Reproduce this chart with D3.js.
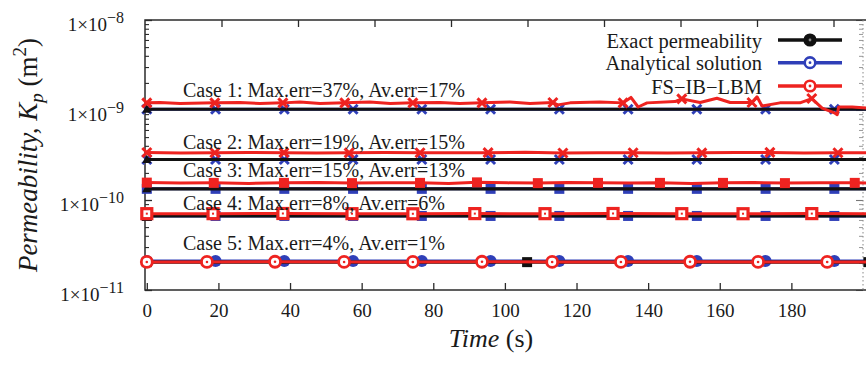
<!DOCTYPE html>
<html>
<head>
<meta charset="utf-8">
<script src="https://cdn.jsdelivr.net/npm/d3@7"></script>
<style>
  body { margin: 0; background: #fff; }
  svg { display: block; }
  svg text { font-family: "Liberation Serif", "DejaVu Serif", serif; }
</style>
</head>
<body>
<svg id="chart" width="866" height="365"></svg>
<script>
// ---------- data ----------
const timeTicks = [0, 20, 40, 60, 80, 100, 120, 140, 160, 180];
const decadeTicks = [1e-11, 1e-10, 1e-9, 1e-8];
const decadeExponents = ["\u221211", "\u221210", "\u22129", "\u22128"];
const seriesNames = ["Exact permeability", "Analytical solution", "FS\u2212IB\u2212LBM"];
const caseLabels = [
  "Case 1: Max.err=37%, Av.err=17%",
  "Case 2: Max.err=19%, Av.err=15%",
  "Case 3: Max.err=15%, Av.err=13%",
  "Case 4: Max.err=8%, Av.err=6%",
  "Case 5: Max.err=4%, Av.err=1%"
];

// exact permeability (constant in time), one value per case
const exactK = [1.02e-9, 2.82e-10, 1.33e-10, 6.65e-11, 2.04e-11];
const exactT = [0, 106.2, 201.5];
const exactMarkT = [[0], [0], [0], [0], [0, 106.2, 201.5]];

// analytical solution (constant in time), one value per case
const analyticK = [1.02e-9, 2.82e-10, 1.33e-10, 6.65e-11, 2.10e-11];
const analyticT = [0, 19.2, 38.4, 57.6, 76.8, 96, 115.2, 134.4, 153.6, 172.8, 192, 201];
const analyticMarkT = [0, 19.2, 38.4, 57.6, 76.8, 96, 115.2, 134.4, 153.6, 172.8, 192];

// FS-IB-LBM results
const red1T = [0, 3.7, 9.3, 19.0, 26, 31.6, 38.0, 42.8, 48.4, 55.3, 62.3, 68.0, 74.3, 81.9, 87.4, 93.6,
  101.4, 107.0, 113.4, 114.8, 118.2, 126.5, 133.0, 135.2, 137.2, 139.7, 147.5, 149.4, 154.5, 159.2,
  162.9, 169.0, 170.4, 171.8, 176.8, 182.4, 185.7, 188.6, 192.0, 192.8, 193.2, 197.0, 201];
const red1V = [1.20e-9, 1.21e-9, 1.18e-9, 1.20e-9, 1.21e-9, 1.18e-9, 1.20e-9, 1.23e-9, 1.18e-9, 1.20e-9,
  1.23e-9, 1.18e-9, 1.20e-9, 1.21e-9, 1.18e-9, 1.20e-9, 1.23e-9, 1.18e-9, 1.21e-9, 1.14e-9, 1.20e-9,
  1.23e-9, 1.20e-9, 1.38e-9, 1.08e-9, 1.20e-9, 1.24e-9, 1.33e-9, 1.21e-9, 1.35e-9, 1.21e-9, 1.21e-9,
  1.40e-9, 1.11e-9, 1.20e-9, 1.20e-9, 1.34e-9, 1.05e-9, 0.93e-9, 0.885e-9, 1.08e-9, 1.08e-9, 1.05e-9];
const red1M = [0, 19.0, 38.0, 55.3, 74.3, 93.6, 113.4, 133.0, 149.4, 169.0, 185.7];

const red2T = [0, 9.5, 19.0, 28.6, 38.3, 47.4, 56.5, 66.4, 76.3, 85.8, 95.3, 105.7, 116.2, 126.0,
  135.8, 145.4, 155.0, 164.5, 174.0, 183.5, 193.0, 201];
const red2V = [3.37e-10, 3.33e-10, 3.35e-10, 3.38e-10, 3.36e-10, 3.32e-10, 3.34e-10, 3.37e-10, 3.35e-10,
  3.34e-10, 3.36e-10, 3.39e-10, 3.33e-10, 3.35e-10, 3.35e-10, 3.32e-10, 3.34e-10, 3.37e-10, 3.38e-10,
  3.33e-10, 3.35e-10, 3.36e-10];
const red2M = [0, 19.0, 38.3, 56.5, 76.3, 95.3, 116.2, 135.8, 155.0, 174.0, 193.0];

const red3T = [0, 9.4, 18.7, 28.5, 38.3, 47.8, 57.3, 66.8, 76.3, 84.3, 92.2, 100.7, 109.2, 117.6, 126.0,
  134.7, 143.3, 152.1, 160.9, 169.6, 178.2, 188.0, 197.7, 201];
const red3V = [1.56e-10, 1.54e-10, 1.55e-10, 1.53e-10, 1.55e-10, 1.56e-10, 1.54e-10, 1.55e-10, 1.55e-10,
  1.53e-10, 1.57e-10, 1.55e-10, 1.54e-10, 1.56e-10, 1.55e-10, 1.54e-10, 1.55e-10, 1.53e-10, 1.55e-10,
  1.56e-10, 1.54e-10, 1.55e-10, 1.55e-10, 1.54e-10];
const red3M = [0, 18.7, 38.3, 57.3, 76.3, 92.2, 109.2, 126.0, 143.3, 160.9, 178.2, 197.7];

const red4T = [0, 18.5, 38.0, 57.3, 74.3, 91.6, 111.2, 130.2, 149.4, 166.5, 185.7, 201];
const red4V = [7.05e-11, 7.05e-11, 7.08e-11, 7.05e-11, 7.03e-11, 7.06e-11, 7.05e-11, 7.08e-11, 7.05e-11,
  7.04e-11, 7.06e-11, 7.05e-11];
const red4M = [0, 18.5, 38.0, 57.3, 74.3, 91.6, 111.2, 130.2, 149.4, 166.5, 185.7];

const red5T = [0, 16.8, 35.8, 55.1, 74.3, 93.6, 113.2, 132.4, 151.7, 170.7, 190.0, 201];
const red5V = [2.05e-11, 2.05e-11, 2.06e-11, 2.05e-11, 2.05e-11, 2.06e-11, 2.05e-11, 2.05e-11, 2.06e-11,
  2.05e-11, 2.05e-11, 2.05e-11];
const red5M = [0, 16.8, 35.8, 55.1, 74.3, 93.6, 113.2, 132.4, 151.7, 170.7, 190.0];

const redT = [red1T, red2T, red3T, red4T, red5T];
const redV = [red1V, red2V, red3V, red4V, red5V];
const redM = [red1M, red2M, red3M, red4M, red5M];

// ---------- styles & layout ----------
const colors = { exact: "#111111", analytic: "#2f3fb8", fs: "#ee2320" };
const caseMarkers = [
  { fs: "cross", analytic: "cross", exact: "triangle" },
  { fs: "cross", analytic: "cross", exact: "triangle" },
  { fs: "box", analytic: "box", exact: "triangle" },
  { fs: "boxDot", analytic: "box", exact: "box" },
  { fs: "ringDot", analytic: "disc", exact: "box" }
];
const labelBaselines = [97, 149, 177, 210, 250];
const serif = "Liberation Serif";
const W = 866, H = 365;
const plot = { left: 145, right: 863, top: 20, bottom: 290 };

const svg = d3.select("#chart");
const x = d3.scaleLinear().domain([0, 200]).range([146.8, plot.right]);
const xTop = d3.scaleLinear().domain([0, 200]).range([plot.left, 910]);
const y = d3.scaleLog().domain([1e-11, 1e-8]).range([plot.bottom, plot.top]);

svg.append("defs").append("clipPath").attr("id", "plotClip")
  .append("rect").attr("x", plot.left).attr("y", plot.top)
  .attr("width", W - plot.left).attr("height", plot.bottom - plot.top);

// ---------- axes ----------
const axisColor = "#2b2b2b";
const minorTicks = [];
[1e-11, 1e-10, 1e-9].forEach(d => { for (let k = 2; k <= 9; k++) minorTicks.push(d * k); });

function styleAxis(g, color, width) {
  g.select(".domain").remove();
  g.selectAll("line").attr("stroke", color).attr("stroke-width", width);
}

const gx = svg.append("g").attr("transform", `translate(0,${plot.bottom})`)
  .call(d3.axisBottom(x).tickValues(timeTicks).tickSizeInner(-7).tickSizeOuter(0).tickPadding(14));
styleAxis(gx, axisColor, 1.3);
gx.attr("font-family", serif).attr("font-size", 19);
gx.selectAll("text").attr("fill", "#1a1a1a");

const gxt = svg.append("g").attr("transform", `translate(0,${plot.top})`)
  .call(d3.axisTop(xTop).tickValues(timeTicks.slice(1)).tickSizeInner(-7).tickSizeOuter(0).tickFormat(() => ""));
styleAxis(gxt, axisColor, 1.3);

const gyl = svg.append("g").attr("transform", `translate(${plot.left},0)`)
  .call(d3.axisLeft(y).tickValues(decadeTicks).tickSizeInner(-7).tickSizeOuter(0).tickFormat(() => ""));
styleAxis(gyl, axisColor, 1.3);
const gylm = svg.append("g").attr("transform", `translate(${plot.left},0)`)
  .call(d3.axisLeft(y).tickValues(minorTicks).tickSizeInner(-4).tickSizeOuter(0).tickFormat(() => ""));
styleAxis(gylm, axisColor, 1.1);

const gyr = svg.append("g").attr("transform", `translate(${plot.right},0)`)
  .call(d3.axisRight(y).tickValues(decadeTicks).tickSizeInner(-7).tickSizeOuter(0).tickFormat(() => ""));
styleAxis(gyr, "#777", 1.1);
const gyrm = svg.append("g").attr("transform", `translate(${plot.right},0)`)
  .call(d3.axisRight(y).tickValues(minorTicks).tickSizeInner(-4).tickSizeOuter(0).tickFormat(() => ""));
styleAxis(gyrm, "#999", 1);

// frame
svg.append("path")
  .attr("d", `M${W},${plot.top}H${plot.left}V${plot.bottom}H${W}`)
  .attr("fill", "none").attr("stroke", axisColor).attr("stroke-width", 1.5);
svg.append("line")
  .attr("x1", plot.right).attr("x2", plot.right).attr("y1", plot.top).attr("y2", plot.bottom)
  .attr("stroke", "#888").attr("stroke-width", 1).attr("stroke-dasharray", "1.5,2.5");

// y tick labels 1x10^n
decadeTicks.forEach((d, i) => {
  const t = svg.append("text")
    .attr("x", 124).attr("y", y(d) + 10.5)
    .attr("text-anchor", "end")
    .attr("font-size", 19).attr("fill", "#1a1a1a");
  t.append("tspan").text("1\u00d710");
  t.append("tspan").attr("dy", -8).attr("font-size", 16).text(decadeExponents[i]);
});

// axis titles
const yt = svg.append("text")
  .attr("transform", "translate(37,155) rotate(-90)")
  .attr("text-anchor", "middle")
  .attr("font-size", 27).attr("fill", "#1a1a1a");
yt.append("tspan").attr("font-style", "italic").text("Permeability, K");
yt.append("tspan").attr("font-style", "italic").attr("font-size", 19).attr("dy", 6).text("p");
yt.append("tspan").attr("dy", -6).text(" (m");
yt.append("tspan").attr("font-size", 19).attr("dy", -11).text("2");
yt.append("tspan").attr("dy", 11).text(")");

const xt = svg.append("text")
  .attr("x", 491).attr("y", 347)
  .attr("text-anchor", "middle")
  .attr("font-size", 26).attr("fill", "#1a1a1a");
xt.append("tspan").attr("font-style", "italic").text("Time");
xt.append("tspan").text(" (s)");

// ---------- markers ----------
function drawMarker(g, shape, cx, cy, color) {
  switch (shape) {
    case "cross":
      g.append("path")
        .attr("d", `M${cx - 4.5},${cy - 4.5}L${cx + 4.5},${cy + 4.5}M${cx - 4.5},${cy + 4.5}L${cx + 4.5},${cy - 4.5}`)
        .attr("fill", "none").attr("stroke", color).attr("stroke-width", 3);
      break;
    case "box":
      g.append("rect").attr("x", cx - 5).attr("y", cy - 5).attr("width", 10).attr("height", 10)
        .attr("fill", color);
      break;
    case "boxDot":
      g.append("rect").attr("x", cx - 5).attr("y", cy - 5).attr("width", 10).attr("height", 10)
        .attr("fill", "#fff").attr("stroke", color).attr("stroke-width", 3.2);
      g.append("rect").attr("x", cx - 1).attr("y", cy - 1).attr("width", 2).attr("height", 2)
        .attr("fill", color);
      break;
    case "ringDot":
      g.append("circle").attr("cx", cx).attr("cy", cy).attr("r", 5.5)
        .attr("fill", "#fff").attr("stroke", color).attr("stroke-width", 2.8);
      g.append("circle").attr("cx", cx).attr("cy", cy).attr("r", 1.3).attr("fill", color);
      break;
    case "disc":
      g.append("circle").attr("cx", cx).attr("cy", cy).attr("r", 6).attr("fill", color);
      break;
    case "triangle":
      g.append("path")
        .attr("d", `M${cx},${cy - 5}L${cx + 4.5},${cy + 3.5}L${cx - 4.5},${cy + 3.5}Z`)
        .attr("fill", color);
      break;
    case "legendDot":
      g.append("circle").attr("cx", cx).attr("cy", cy).attr("r", 5.3)
        .attr("fill", color === colors.exact ? color : "#fff").attr("stroke", color).attr("stroke-width", 2.6);
      g.append("circle").attr("cx", cx).attr("cy", cy).attr("r", 1.4)
        .attr("fill", color === colors.exact ? "#888" : color);
      break;
  }
}

const line = d3.line().x(d => x(d.t)).y(d => y(d.v));
const linesG = svg.append("g").attr("clip-path", "url(#plotClip)");
const marksG = svg.append("g");

// analytical solution (drawn first, lies beneath)
analyticK.forEach((k, i) => {
  const pts = analyticT.map(t => ({ t, v: k }));
  linesG.append("path").datum(pts).attr("d", line)
    .attr("fill", "none").attr("stroke", colors.analytic).attr("stroke-width", 3);
  analyticMarkT.forEach(t => drawMarker(marksG, caseMarkers[i].analytic, x(t), y(k), colors.analytic));
});

// exact permeability
const exactLines = svg.append("g").attr("clip-path", "url(#plotClip)");
const exactMarks = svg.append("g");
exactK.forEach((k, i) => {
  const pts = exactT.map(t => ({ t, v: k }));
  exactLines.append("path").datum(pts).attr("d", line)
    .attr("fill", "none").attr("stroke", colors.exact).attr("stroke-width", 3.2);
  exactMarkT[i].forEach(t => drawMarker(exactMarks, caseMarkers[i].exact, x(t), y(k), colors.exact));
});

// FS-IB-LBM
const fsLines = svg.append("g").attr("clip-path", "url(#plotClip)");
const fsMarks = svg.append("g");
redT.forEach((ts, i) => {
  const pts = ts.map((t, j) => ({ t, v: redV[i][j] }));
  fsLines.append("path").datum(pts).attr("d", line)
    .attr("fill", "none").attr("stroke", colors.fs).attr("stroke-width", 3)
    .attr("stroke-linejoin", "round");
  redM[i].forEach(t => {
    const p = pts[ts.indexOf(t)];
    drawMarker(fsMarks, caseMarkers[i].fs, x(p.t), y(p.v), colors.fs);
  });
});

// case annotations
caseLabels.forEach((s, i) => {
  svg.append("text").attr("x", 183).attr("y", labelBaselines[i])
    .attr("font-size", 20).attr("fill", "#1a1a1a")
    .text(s);
});

// ---------- legend ----------
const legendColors = [colors.exact, colors.analytic, colors.fs];
const legendY = [40, 62.7, 86];
seriesNames.forEach((name, i) => {
  const g = svg.append("g");
  g.append("text").attr("x", 762).attr("y", legendY[i] + 7.5)
    .attr("text-anchor", "end")
    .attr("font-size", 20.5).attr("fill", "#1a1a1a")
    .text(name);
  g.append("line").attr("x1", 778).attr("x2", 842).attr("y1", legendY[i]).attr("y2", legendY[i])
    .attr("stroke", legendColors[i]).attr("stroke-width", 3.4);
  drawMarker(g, "legendDot", 810, legendY[i], legendColors[i]);
});
</script>
</body>
</html>
